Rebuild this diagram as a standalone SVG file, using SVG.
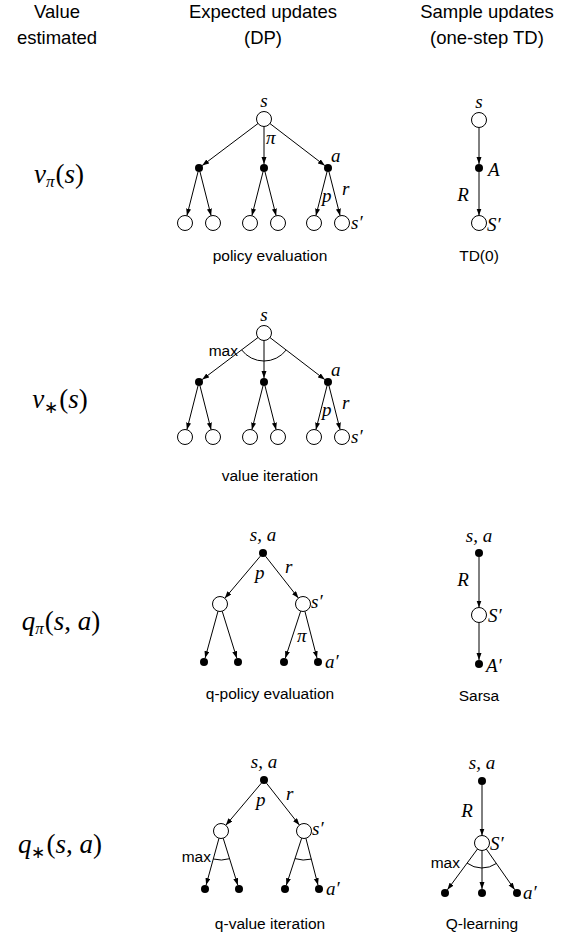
<svg xmlns="http://www.w3.org/2000/svg" width="564" height="932" viewBox="0 0 564 932">
<style>
.hd{font-family:"Liberation Sans",Arial,sans-serif;font-size:18.5px;text-anchor:middle;fill:#000}
.lb{font-family:"Liberation Sans",Arial,sans-serif;font-size:15.5px;text-anchor:middle;fill:#000}
.mx{font-family:"Liberation Sans",Arial,sans-serif;font-size:15.5px;text-anchor:end;fill:#000}
.m{font-family:"Liberation Serif","Times New Roman",serif;font-style:italic;font-size:19px;fill:#000}
.mc{text-anchor:middle}
.big{font-family:"Liberation Serif","Times New Roman",serif;font-size:27px;text-anchor:middle;fill:#000}
.st{fill:#fff;stroke:#000;stroke-width:1}
.ac{fill:#000}
.e{stroke:#000;stroke-width:1;fill:none;marker-end:url(#ah)}
.arc{stroke:#000;stroke-width:1;fill:none}
</style>
<defs>
<marker id="ah" markerUnits="userSpaceOnUse" markerWidth="8" markerHeight="6" refX="7" refY="2.5" orient="auto">
<path d="M0,0 L7,2.5 L0,5 z" fill="#000"/>
</marker>
</defs>
<rect width="564" height="932" fill="#fff"/>
<g id="headers">
<text class="hd" x="57" y="18">Value</text>
<text class="hd" x="57" y="44">estimated</text>
<text class="hd" x="263" y="18">Expected updates</text>
<text class="hd" x="263" y="44">(DP)</text>
<text class="hd" x="487" y="18">Sample updates</text>
<text class="hd" x="487" y="44">(one-step TD)</text>
</g>
<g id="row-labels">
<text class="big" x="59" y="183"><tspan font-style="italic">v</tspan><tspan font-style="italic" font-size="17" dy="4">π</tspan><tspan dy="-4" dx="1">(</tspan><tspan font-style="italic">s</tspan>)</text>
<text class="big" x="60" y="408"><tspan font-style="italic">v</tspan><tspan font-size="17" dy="5">∗</tspan><tspan dy="-5" dx="1">(</tspan><tspan font-style="italic">s</tspan>)</text>
<text class="big" x="61" y="630"><tspan font-style="italic">q</tspan><tspan font-style="italic" font-size="17" dy="4">π</tspan><tspan dy="-4" dx="1">(</tspan><tspan font-style="italic">s</tspan>, <tspan font-style="italic">a</tspan>)</text>
<text class="big" x="60" y="853"><tspan font-style="italic">q</tspan><tspan font-size="17" dy="5">∗</tspan><tspan dy="-5" dx="1">(</tspan><tspan font-style="italic">s</tspan>, <tspan font-style="italic">a</tspan>)</text>
</g>
<g id="connectors">
<line class="e" x1="258" y1="123.5" x2="202.2" y2="165.6"/>
<line class="e" x1="264" y1="126.5" x2="264" y2="164"/>
<line class="e" x1="270" y1="123.6" x2="324.8" y2="165.6"/>
<line class="e" x1="198" y1="171.9" x2="186.9" y2="215.7"/>
<line class="e" x1="200" y1="171.9" x2="211.1" y2="215.7"/>
<line class="e" x1="263" y1="171.9" x2="251.9" y2="215.7"/>
<line class="e" x1="265" y1="171.9" x2="276.1" y2="215.7"/>
<line class="e" x1="327" y1="171.9" x2="315.9" y2="215.7"/>
<line class="e" x1="329" y1="171.9" x2="340.1" y2="215.7"/>
<line class="e" x1="479" y1="127.5" x2="479" y2="164"/>
<line class="e" x1="479" y1="172" x2="479" y2="215.5"/>
<line class="e" x1="258" y1="337.5" x2="202.2" y2="379.6"/>
<line class="e" x1="264" y1="340.5" x2="264" y2="378"/>
<line class="e" x1="270" y1="337.6" x2="324.8" y2="379.6"/>
<line class="e" x1="198" y1="385.9" x2="186.9" y2="429.7"/>
<line class="e" x1="200" y1="385.9" x2="211.1" y2="429.7"/>
<line class="e" x1="263" y1="385.9" x2="251.9" y2="429.7"/>
<line class="e" x1="265" y1="385.9" x2="276.1" y2="429.7"/>
<line class="e" x1="327" y1="385.9" x2="315.9" y2="429.7"/>
<line class="e" x1="329" y1="385.9" x2="340.1" y2="429.7"/>
<path class="arc" d="M241.6,349.9 A28,28 0 0 0 286.2,350"/>
<line class="e" x1="260.4" y1="556.1" x2="224.8" y2="598.3"/>
<line class="e" x1="265.5" y1="556.2" x2="298.4" y2="598.1"/>
<line class="e" x1="218" y1="611.2" x2="205.1" y2="658.1"/>
<line class="e" x1="222.2" y1="611.2" x2="236.8" y2="658.2"/>
<line class="e" x1="300.7" y1="611.1" x2="285.3" y2="658.2"/>
<line class="e" x1="304.9" y1="611.3" x2="317" y2="658.1"/>
<line class="e" x1="479" y1="557" x2="479" y2="607.5"/>
<line class="e" x1="479" y1="622.5" x2="479" y2="660"/>
<line class="e" x1="261.4" y1="783.1" x2="225.8" y2="825.3"/>
<line class="e" x1="266.5" y1="783.2" x2="299.4" y2="825.1"/>
<line class="e" x1="219" y1="838.2" x2="206.1" y2="885.1"/>
<line class="e" x1="223.2" y1="838.2" x2="237.8" y2="885.2"/>
<line class="e" x1="301.7" y1="838.1" x2="286.3" y2="885.2"/>
<line class="e" x1="305.9" y1="838.3" x2="318" y2="885.1"/>
<path class="arc" d="M213.3,859 A29,29 0 0 0 229.6,858.7"/>
<path class="arc" d="M295,858.6 A29,29 0 0 0 311.3,859.1"/>
<line class="e" x1="482" y1="785" x2="482" y2="835.5"/>
<line class="e" x1="477.5" y1="849" x2="447.4" y2="889.8"/>
<line class="e" x1="482" y1="850.5" x2="482" y2="889"/>
<line class="e" x1="486.3" y1="849.1" x2="514.7" y2="889.7"/>
<path class="arc" d="M467.1,863.1 A25,25 0 0 0 496.3,863.5"/>
</g>
<g id="dp-policy-evaluation">
<circle class="st" cx="264" cy="119" r="7.5"/>
<circle class="ac" cx="199" cy="168" r="4"/>
<circle class="ac" cx="264" cy="168" r="4"/>
<circle class="ac" cx="328" cy="168" r="4"/>
<circle class="st" cx="185" cy="223" r="7.5"/>
<circle class="st" cx="213" cy="223" r="7.5"/>
<circle class="st" cx="250" cy="223" r="7.5"/>
<circle class="st" cx="278" cy="223" r="7.5"/>
<circle class="st" cx="314" cy="223" r="7.5"/>
<circle class="st" cx="342" cy="223" r="7.5"/>
<text class="m mc" x="264" y="107">s</text>
<text class="m" x="266" y="144" font-size="16">π</text>
<text class="m" x="331" y="162">a</text>
<text class="m" x="322" y="202">p</text>
<text class="m" x="342" y="195">r</text>
<text class="m" x="351" y="229">s′</text>
<text class="lb" x="270" y="261">policy evaluation</text>
</g>
<g id="td0">
<circle class="st" cx="479" cy="120" r="7.5"/>
<circle class="ac" cx="479" cy="168" r="4"/>
<circle class="st" cx="479" cy="223" r="7.5"/>
<text class="m mc" x="479" y="108">s</text>
<text class="m" x="488" y="176">A</text>
<text class="m mc" x="463" y="201">R</text>
<text class="m" x="487" y="231">S′</text>
<text class="lb" x="479" y="261">TD(0)</text>
</g>
<g id="dp-value-iteration">
<circle class="st" cx="264" cy="333" r="7.5"/>
<circle class="ac" cx="199" cy="382" r="4"/>
<circle class="ac" cx="264" cy="382" r="4"/>
<circle class="ac" cx="328" cy="382" r="4"/>
<circle class="st" cx="185" cy="437" r="7.5"/>
<circle class="st" cx="213" cy="437" r="7.5"/>
<circle class="st" cx="250" cy="437" r="7.5"/>
<circle class="st" cx="278" cy="437" r="7.5"/>
<circle class="st" cx="314" cy="437" r="7.5"/>
<circle class="st" cx="342" cy="437" r="7.5"/>
<text class="m mc" x="264" y="321">s</text>
<text class="mx" x="238" y="356">max</text>
<text class="m" x="331" y="376">a</text>
<text class="m" x="322" y="416">p</text>
<text class="m" x="342" y="409">r</text>
<text class="m" x="351" y="443">s′</text>
<text class="lb" x="270" y="481">value iteration</text>
</g>
<g id="dp-q-policy-evaluation">
<circle class="ac" cx="263" cy="553" r="4"/>
<circle class="st" cx="220" cy="604" r="7.5"/>
<circle class="st" cx="303" cy="604" r="7.5"/>
<circle class="ac" cx="204" cy="662" r="4"/>
<circle class="ac" cx="238" cy="662" r="4"/>
<circle class="ac" cx="284" cy="662" r="4"/>
<circle class="ac" cx="318" cy="662" r="4"/>
<text class="m mc" x="263" y="541">s, a</text>
<text class="m" x="255" y="579">p</text>
<text class="m" x="285" y="573">r</text>
<text class="m" x="311" y="608">s′</text>
<text class="m" x="297" y="642" font-size="16">π</text>
<text class="m" x="325" y="668">a′</text>
<text class="lb" x="270" y="699">q-policy evaluation</text>
</g>
<g id="sarsa">
<circle class="ac" cx="479" cy="553" r="4"/>
<circle class="st" cx="479" cy="615" r="7.5"/>
<circle class="ac" cx="479" cy="664" r="4"/>
<text class="m mc" x="479" y="542">s, a</text>
<text class="m mc" x="463" y="586">R</text>
<text class="m" x="488" y="622">S′</text>
<text class="m" x="486" y="672">A′</text>
<text class="lb" x="479" y="701">Sarsa</text>
</g>
<g id="dp-q-value-iteration">
<circle class="ac" cx="264" cy="780" r="4"/>
<circle class="st" cx="221" cy="831" r="7.5"/>
<circle class="st" cx="304" cy="831" r="7.5"/>
<circle class="ac" cx="205" cy="889" r="4"/>
<circle class="ac" cx="239" cy="889" r="4"/>
<circle class="ac" cx="285" cy="889" r="4"/>
<circle class="ac" cx="319" cy="889" r="4"/>
<text class="m mc" x="264" y="768">s, a</text>
<text class="mx" x="211" y="862">max</text>
<text class="m" x="256" y="806">p</text>
<text class="m" x="286" y="800">r</text>
<text class="m" x="312" y="835">s′</text>
<text class="m" x="326" y="895">a′</text>
<text class="lb" x="270" y="929">q-value iteration</text>
</g>
<g id="q-learning">
<circle class="ac" cx="482" cy="781" r="4"/>
<circle class="st" cx="482" cy="843" r="7.5"/>
<circle class="ac" cx="445" cy="893" r="4"/>
<circle class="ac" cx="482" cy="893" r="4"/>
<circle class="ac" cx="517" cy="893" r="4"/>
<text class="m mc" x="482" y="769">s, a</text>
<text class="m mc" x="467" y="817">R</text>
<text class="m" x="490" y="850">S′</text>
<text class="mx" x="460" y="868">max</text>
<text class="m" x="523" y="899">a′</text>
<text class="lb" x="482" y="929">Q-learning</text>
</g>
</svg>
